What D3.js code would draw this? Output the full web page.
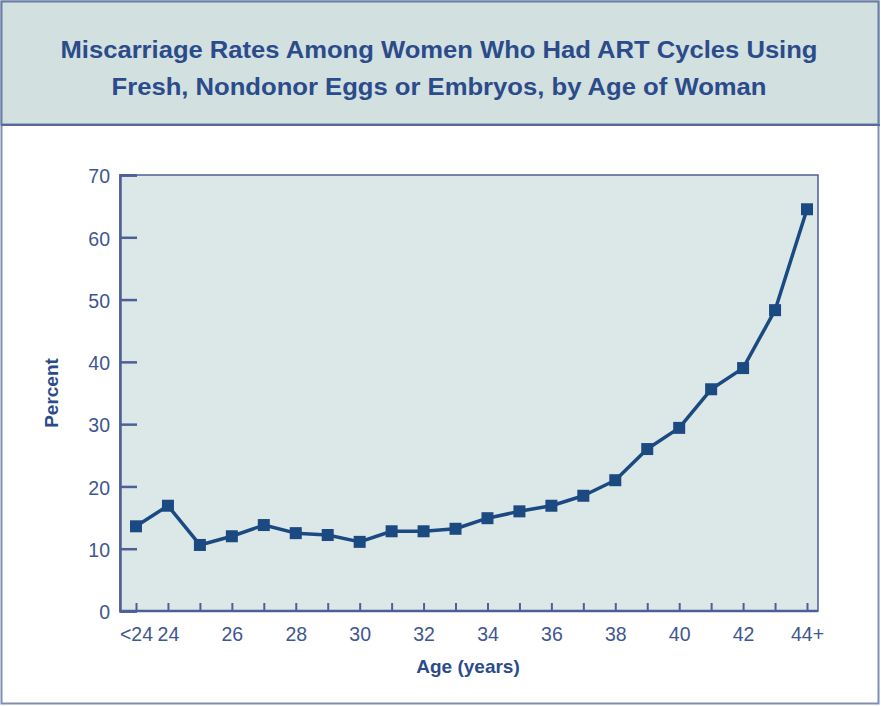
<!DOCTYPE html>
<html><head><meta charset="utf-8">
<script src="https://cdn.jsdelivr.net/npm/d3@7/dist/d3.min.js"></script>
<style>body{margin:0;background:#fff}svg{display:block}</style>
</head><body>
<svg id="c" width="881" height="706"></svg>
<script>
const categories = ["<24","24","25","26","27","28","29","30","31","32","33","34","35","36","37","38","39","40","41","42","43","44+"];
const values = [13.6,16.9,10.6,12.0,13.8,12.5,12.2,11.1,12.8,12.8,13.2,14.9,16.0,16.9,18.5,21.0,26.0,29.4,35.6,39.0,48.3,64.5];
const tickLabels = ["<24","24","26","28","30","32","34","36","38","40","42","44+"];
const yTicks = [0,10,20,30,40,50,60,70];
const titleLines = ["Miscarriage Rates Among Women Who Had ART Cycles Using","Fresh, Nondonor Eggs or Embryos, by Age of Woman"];

const svg = d3.select("#c");
const dark = "#1b4a82", axisC = "#4d5f98", textC = "#3f5790";
const F = "'Liberation Sans', Arial, sans-serif";

// outer frame
svg.append("rect").attr("x",1.5).attr("y",1.5).attr("width",877).attr("height",702)
  .attr("fill","#fff").attr("stroke","#7f8fae").attr("stroke-width",2);
// title band
svg.append("rect").attr("x",1.5).attr("y",1.5).attr("width",877).attr("height",123)
  .attr("fill","#d2e0e0").attr("stroke","#6a7ca4").attr("stroke-width",2);
svg.append("line").attr("x1",1).attr("x2",880).attr("y1",125).attr("y2",125).attr("stroke","#58699a").attr("stroke-width",2);

const tl = svg.append("g");
titleLines.forEach((t,i)=>{
  tl.append("text").attr("x",439).attr("y",58+i*37).attr("text-anchor","middle")
    .attr("font-family",F).attr("font-weight","bold").attr("font-size",23)
    .attr("fill","#2b4b8a").attr("textLength", i===0?757:655).attr("lengthAdjust","spacingAndGlyphs").text(t);
});

const L=120,R=818,T=175,B=611;
const x = d3.scalePoint().domain(categories).range([136,807]);
const y = d3.scaleLinear().domain([0,70]).range([B,T]);

svg.append("rect").attr("x",L).attr("y",T).attr("width",R-L).attr("height",B-T)
  .attr("fill","#dce7e7").attr("stroke",axisC).attr("stroke-width",1.5);

// y axis
const ya = svg.append("g").attr("transform",`translate(${L},0)`)
  .call(d3.axisLeft(y).tickValues(yTicks).tickSize(-17).tickPadding(30).tickFormat(d3.format("d")));
ya.select(".domain").attr("stroke",axisC).attr("stroke-width",2.5);
ya.selectAll(".tick line").attr("stroke",axisC).attr("stroke-width",2.5);
ya.selectAll(".tick text").attr("font-family",F).attr("font-size",19.5).attr("fill",textC).attr("text-anchor","end").attr("x",-10).attr("dy","0.4em");

// x axis
const xa = svg.append("g").attr("transform",`translate(0,${B})`)
  .call(d3.axisBottom(x).tickSize(-8).tickSizeOuter(0).tickFormat(d=>tickLabels.includes(d)?d:""));
xa.select(".domain").attr("stroke",axisC).attr("stroke-width",2.5).attr("d",`M${L},0H${R}`);
xa.selectAll(".tick line").attr("stroke",axisC).attr("stroke-width",2);
xa.selectAll(".tick text").attr("font-family",F).attr("font-size",19.5).attr("fill",textC).attr("y",16);

// line
svg.append("path").datum(values)
  .attr("d", d3.line().x((d,i)=>x(categories[i])).y(d=>y(d)))
  .attr("fill","none").attr("stroke",dark).attr("stroke-width",3.5).attr("stroke-linejoin","round");
svg.append("g").selectAll("rect").data(values).join("rect")
  .attr("x",(d,i)=>x(categories[i])-6).attr("y",d=>y(d)-6).attr("width",12).attr("height",12).attr("fill",dark);

// axis titles
svg.append("text").attr("x",468).attr("y",673).attr("text-anchor","middle").attr("font-family",F)
  .attr("font-weight","bold").attr("font-size",19).attr("fill","#2b4b8a").text("Age (years)");
svg.append("text").attr("transform","translate(58,393) rotate(-90)").attr("text-anchor","middle").attr("font-family",F)
  .attr("font-weight","bold").attr("font-size",19).attr("fill","#2b4b8a").text("Percent");
</script>
</body></html>
